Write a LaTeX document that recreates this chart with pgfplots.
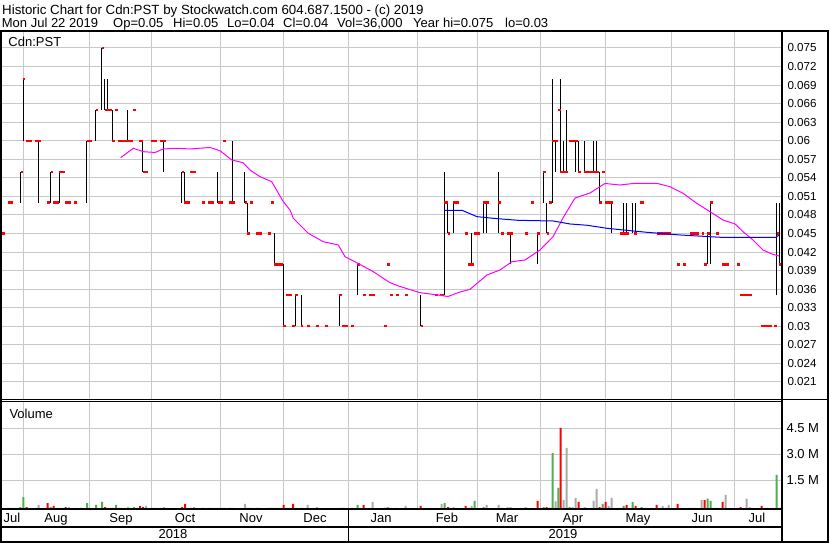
\documentclass[border=0pt]{standalone}
\usepackage{fontspec}
\setmainfont{Liberation Sans}
\usepackage{pgfplots}
\pgfplotsset{compat=1.18}
\usepackage{pgfplotstable}
\definecolor{gridc}{RGB}{200,200,200}
\definecolor{vgreen}{RGB}{76,175,80}
\definecolor{vgray}{RGB}{170,170,170}
\definecolor{mag}{RGB}{255,0,255}

\pgfplotstableread{
x lo hi
20.7 0.050 0.055
23.3 0.060 0.070
38.3 0.050 0.060
50.7 0.050 0.055
59.3 0.050 0.055
86.7 0.050 0.060
95.7 0.060 0.065
101.7 0.065 0.075
104.7 0.065 0.070
107.3 0.065 0.070
112.3 0.060 0.065
127.3 0.060 0.065
142.5 0.055 0.060
163.3 0.055 0.060
181.7 0.050 0.055
184.3 0.050 0.055
217.5 0.050 0.055
232.3 0.050 0.060
244.5 0.050 0.055
247.3 0.045 0.050
274.3 0.040 0.045
283.3 0.030 0.040
295.0 0.030 0.035
301.0 0.030 0.035
339.3 0.030 0.035
357.3 0.035 0.040
420.7 0.030 0.035
444.3 0.035 0.055
447.5 0.045 0.050
453.3 0.045 0.050
471.0 0.040 0.045
483.3 0.045 0.050
486.0 0.045 0.050
498.3 0.045 0.055
510.7 0.040 0.045
537.3 0.040 0.045
543.3 0.050 0.055
546.7 0.045 0.050
552.3 0.050 0.070
555.3 0.055 0.060
560.3 0.055 0.070
563.3 0.055 0.060
566.3 0.055 0.065
575.3 0.055 0.060
578.3 0.055 0.060
584.3 0.055 0.060
593.3 0.055 0.060
596.3 0.055 0.060
599.3 0.050 0.055
611.3 0.045 0.050
623.3 0.045 0.050
626.0 0.045 0.050
632.3 0.045 0.050
635.0 0.045 0.050
707.3 0.040 0.045
710.0 0.040 0.050
776.7 0.035 0.050
779.3 0.040 0.050
}\hl

\pgfplotstableread{
x1 x2 c
2 5 0.045
8 13 0.050
20.7 23 0.055
23.3 25.5 0.070
26 32 0.060
35 41 0.060
47 50 0.050
50.7 53 0.055
53 59 0.050
59.3 65 0.055
65 71 0.050
74 77 0.050
86.7 92 0.060
95.7 98 0.065
101.7 104 0.075
104.7 112 0.065
115 118 0.065
112.3 115 0.060
118 133 0.060
133 136 0.065
139 142.5 0.060
142.5 148 0.055
151 157 0.060
160 166 0.060
181.7 184.3 0.055
184.3 190 0.050
190 196 0.055
202 205 0.050
208 214 0.050
217.5 223 0.050
223 226 0.060
229 235 0.050
244.5 247.3 0.050
247.3 250 0.045
250 253 0.050
256 262 0.045
268 271 0.045
271 274 0.050
274.3 283.3 0.040
283.3 286 0.030
286 292 0.035
292 295 0.030
295 298 0.035
301 303 0.030
307 310 0.030
316 319 0.030
325 328 0.030
339.3 342 0.035
342 348 0.030
351 354 0.030
357.3 360 0.040
363 366 0.035
369 375 0.035
384 387 0.030
387 390 0.040
390 393 0.035
396 399 0.035
405 408 0.035
420.7 423 0.030
435 438 0.035
440 444 0.035
444.3 447.5 0.050
447.5 450 0.045
453.3 459 0.050
465 468 0.045
468 474 0.040
474 480 0.045
483.3 489 0.050
498.3 501 0.050
501 504 0.045
507 513 0.045
525 528 0.045
531 534 0.050
537.3 540 0.045
543.3 546 0.055
546.7 549 0.045
549 552 0.050
552.3 558 0.060
558 561 0.065
560.3 568 0.055
569 578 0.060
578.3 581 0.055
584.3 599 0.055
599.3 602 0.050
602 605 0.055
605 613 0.050
620 629 0.045
634 637 0.045
640 644 0.050
657 671 0.045
677 680 0.040
683 686 0.040
690 699 0.045
702 704 0.045
704 707.3 0.040
707.3 710 0.045
710 713 0.050
716 718.5 0.045
722 728.5 0.040
737 740 0.040
740 752 0.035
761 772 0.030
774 776.7 0.030
776.7 779.3 0.045
779.3 782 0.040
}\closes

\pgfplotstableread{
x v
120.7 0.05726
133.3 0.05878
143.3 0.05823
155 0.05810
163.3 0.05867
176.7 0.05878
190 0.05867
210 0.05891
220 0.05839
231.7 0.05689
243 0.05645
250 0.05527
260 0.05419
271.7 0.05338
278 0.05163
283.3 0.05014
290 0.04880
293.3 0.04746
308.3 0.04503
323.3 0.04367
338.3 0.04314
345 0.04125
356.7 0.04028
373.3 0.03882
390 0.03704
400 0.03643
420 0.03543
440 0.03500
448 0.03481
460 0.03554
470 0.03597
487 0.03829
500 0.03910
512 0.04044
525 0.04071
540 0.04233
553 0.04448
563 0.04751
575 0.05074
590 0.05155
605 0.05309
620 0.05284
635 0.05312
656.7 0.05312
670 0.05257
683 0.05150
696.7 0.04988
710 0.04853
723 0.04718
735 0.04654
743 0.04529
753 0.04395
763 0.04233
772 0.04168
779 0.04136
}\maf

\pgfplotstableread{
x v
444 0.04875
462 0.04875
477 0.04772
493 0.04746
518 0.04713
553 0.04702
570 0.04654
587 0.04633
607 0.04584
623 0.04557
647 0.04519
680 0.04476
720 0.04439
776 0.04439
779 0.04476
}\mas

\pgfplotstableread{
x v
8.3 0.058
20.3 0.115
23.3 0.692
50.7 0.115
56.7 0.058
59.7 0.058
87 0.346
96 0.231
102 0.404
116 0.231
134 0.115
152 0.058
191 0.058
221 0.058
224 0.058
251 0.058
271 0.058
287 0.058
295.7 0.058
339.3 0.058
357.7 0.231
387.7 0.115
435.7 0.058
444.7 0.346
474.7 0.462
483.7 0.115
531.7 0.058
543.7 0.115
549.7 0.075
552.7 3.231
558.3 1.212
569.7 0.115
602.7 0.289
623.7 0.173
632.7 0.404
641.7 0.115
689.7 0.058
707.7 0.594
710.7 0.462
776.7 1.962
}\volg

\pgfplotstableread{
x v
26.7 0.115
47.7 0.346
53.7 0.173
65.7 0.115
81 0.058
105 0.115
113 0.058
119 0.058
140 0.173
143 0.115
182 0.115
185 0.289
203 0.058
230 0.058
248 0.058
257 0.058
274.3 0.058
283.7 0.231
293 0.289
301.7 0.058
342.7 0.058
363.7 0.231
385 0.058
390.3 0.058
420.7 0.173
448 0.115
465.7 0.173
468.7 0.058
501.7 0.058
537.7 0.462
546.7 0.115
560.7 4.674
578.7 0.404
599.7 0.115
605.7 0.404
620.7 0.058
626.7 0.231
635.7 0.173
656.7 0.231
677.7 0.289
704.7 0.519
716.7 0.058
722.7 0.404
740.7 0.115
761.7 0.173
779.7 0.058
}\volr

\pgfplotstableread{
x v
2.7 0.040
11.7 0.058
30 0.058
35.7 0.058
38.7 0.231
62.7 0.058
68.7 0.115
75 0.058
90 0.058
108 0.058
111 0.058
122 0.058
125 0.058
128 0.115
131 0.058
146 0.173
155 0.058
161 0.058
164 0.115
188 0.058
194 0.115
209 0.058
212 0.058
218 0.058
233 0.058
245 0.289
260 0.058
269 0.058
277.7 0.058
280.3 0.058
289.7 0.058
307.7 0.231
317 0.115
326 0.058
346 0.058
351.7 0.058
369.7 0.058
372.7 0.404
396.7 0.058
405.7 0.173
441.7 0.289
453.7 0.115
456.7 0.058
471.7 0.173
477.7 0.058
486.7 0.231
498.7 0.231
507.7 0.115
510.7 0.115
525.7 0.115
555.7 0.444
563.7 0.519
566.7 3.520
572.7 0.115
575.7 0.635
584.7 0.115
587.7 0.058
590.7 0.058
593.7 0.462
596.7 1.154
608.7 0.173
611.7 0.635
662.7 0.173
665.7 0.058
668.7 0.231
683.7 0.058
692.7 0.058
695.7 0.058
701.7 0.519
725.7 0.808
737.7 0.058
746.7 0.594
749.7 0.115
764.7 0.058
767.7 0.058
773.7 0.058
}\volgr

\begin{document}
\begin{tikzpicture}[x=1pt,y=1pt]
\path[use as bounding box, fill=white] (0,0) rectangle (830,543);

% price panel
\begin{axis}[
  at={(2pt,143pt)}, anchor=south west, scale only axis,
  width=780pt, height=369pt,
  xmin=2, xmax=782, ymin=0.01807, ymax=0.07775,
  axis line style={draw=none},
  scaled y ticks=false, scaled x ticks=false,
  xtick={23.3,89.3,151.7,220.7,283.3,348.5,417.3,477.5,540.5,605.5,671.3,734.3},
  xticklabels={},
  ytick={0.021,0.024,0.027,0.030,0.033,0.036,0.039,0.042,0.045,0.048,0.051,0.054,0.057,0.060,0.063,0.066,0.069,0.072,0.075},
  yticklabels={0.021,0.024,0.027,0.03,0.033,0.036,0.039,0.042,0.045,0.048,0.051,0.054,0.057,0.06,0.063,0.066,0.069,0.072,0.075},
  yticklabel pos=right,
  major tick length=0pt,
  grid=major, major grid style={gridc, line width=1pt},
  yticklabel style={anchor=west, xshift=2pt, font=\fontsize{11.6}{13}\selectfont},
]
\addplot[draw=none, mark=none, forget plot,
  error bars/.cd, y dir=plus, y explicit, error mark=none,
  error bar style={draw=black, solid, line width=1pt}]
  table[x=x, y=lo, y error expr=\thisrow{hi}-\thisrow{lo}] {\hl};
\addplot[draw=none, mark=none, forget plot,
  error bars/.cd, x dir=plus, x explicit, error mark=none,
  error bar style={draw=red, solid, line width=2.2pt}]
  table[x=x1, y=c, x error expr=\thisrow{x2}-\thisrow{x1}] {\closes};
\addplot[mag, line width=1pt, mark=none] table[x=x, y=v] {\maf};
\addplot[blue, line width=1pt, mark=none] table[x=x, y=v] {\mas};
\end{axis}

% volume panel
\begin{axis}[
  at={(2pt,34pt)}, anchor=south west, scale only axis,
  width=780pt, height=107pt,
  xmin=2, xmax=782, ymin=0, ymax=6.174,
  axis line style={draw=none},
  scaled y ticks=false,
  xtick={23.3,89.3,151.7,220.7,283.3,348.5,417.3,477.5,540.5,605.5,671.3,734.3},
  xticklabels={},
  ytick={1.656,3.156,4.656},
  yticklabels={1.5 M,3.0 M,4.5 M},
  yticklabel pos=right,
  major tick length=0pt,
  grid=major, major grid style={gridc, line width=1pt},
  yticklabel style={anchor=west, xshift=1pt, font=\fontsize{13}{15}\selectfont},
  ybar, bar width=2pt, bar shift=0pt,
]
\addplot[draw=none, fill=vgreen] table[x=x, y=v] {\volg};
\addplot[draw=none, fill=red] table[x=x, y=v] {\volr};
\addplot[draw=none, fill=vgray] table[x=x, y=v] {\volgr};
\end{axis}

% frame
\draw[line width=1.5pt] (0,512) -- (829,512);
\draw[line width=2pt] (1,512) -- (1,1);
\draw[line width=1.5pt] (828,512) -- (828,1);
\draw[line width=1.5pt] (0,1.2) -- (829,1.2);
\draw[line width=2pt] (782,512) -- (782,1);
\draw[line width=1pt] (0,143) -- (829,143);
\draw[line width=1pt] (0,141.2) -- (782,141.2);
\draw[line width=2pt] (0,33.5) -- (782,33.5);
\draw[line width=1.5pt] (0,16) -- (782,16);
\draw[line width=1.5pt] (348.7,33.5) -- (348.7,1);

% texts
\begin{scope}[every node/.style={inner sep=0pt, font=\fontsize{13}{15}\selectfont}]
\node[anchor=base west, font=\fontsize{13.3}{15}\selectfont] at (2,528.5) {Historic Chart for Cdn:PST by Stockwatch.com 604.687.1500 - (c) 2019};
\node[anchor=base west] at (1.7,515.3) {Mon Jul 22 2019};
\node[anchor=base west] at (113,515.3) {Op=0.05};
\node[anchor=base west] at (173,515.3) {Hi=0.05};
\node[anchor=base west] at (227,515.3) {Lo=0.04};
\node[anchor=base west] at (283,515.3) {Cl=0.04};
\node[anchor=base west] at (337,515.3) {Vol=36,000};
\node[anchor=base west] at (413,515.3) {Year hi=0.075};
\node[anchor=base west] at (505,515.3) {lo=0.03};
\node[anchor=base west] at (8.3,496.7) {Cdn:PST};
\node[anchor=base west] at (9.3,124.7) {Volume};
\node[anchor=base] at (12,20.3) {Jul};
\node[anchor=base] at (56,20.3) {Aug};
\node[anchor=base] at (121,20.3) {Sep};
\node[anchor=base] at (185,20.3) {Oct};
\node[anchor=base] at (251,20.3) {Nov};
\node[anchor=base] at (315,20.3) {Dec};
\node[anchor=base] at (381,20.3) {Jan};
\node[anchor=base] at (447,20.3) {Feb};
\node[anchor=base] at (507,20.3) {Mar};
\node[anchor=base] at (573,20.3) {Apr};
\node[anchor=base] at (638,20.3) {May};
\node[anchor=base] at (702,20.3) {Jun};
\node[anchor=base] at (757,20.3) {Jul};
\node[anchor=base] at (173,4) {2018};
\node[anchor=base] at (563,4) {2019};
\end{scope}
\end{tikzpicture}
\end{document}
